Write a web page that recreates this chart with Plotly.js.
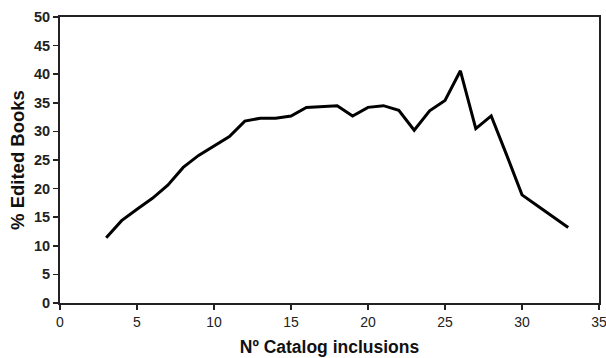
<!DOCTYPE html>
<html>
<head>
<meta charset="utf-8">
<script src="https://cdn.plot.ly/plotly-3.0.1.min.js"></script>
<style>html,body{margin:0;padding:0;background:#fff;}#chart{width:606px;height:358px;}</style>
</head>
<body>
<div id="chart"></div>
<script>
const catalogInclusions = [3,4,5,6,7,8,9,10,11,12,13,14,15,16,17,18,19,20,21,22,23,24,25,26,27,28,29,30,31,32,33];
const editedBooksPct = [11.4,14.4,16.4,18.3,20.6,23.7,25.8,27.5,29.1,31.8,32.3,32.3,32.7,34.2,34.3,34.5,32.7,34.2,34.5,33.7,30.2,33.6,35.4,40.6,30.5,32.7,25.9,18.9,17.0,15.1,13.2];
const xTicks = [0,5,10,15,20,25,30,35];
const yTicks = [0,5,10,15,20,25,30,35,40,45,50];

const trace = {
  x: catalogInclusions,
  y: editedBooksPct,
  type: 'scatter',
  mode: 'lines',
  line: {color: '#000', width: 3},
  hoverinfo: 'skip'
};

const layout = {
  width: 606, height: 358,
  margin: {l: 60, r: 7, t: 17, b: 55},
  paper_bgcolor: '#fff', plot_bgcolor: '#fff',
  showlegend: false,
  font: {family: 'Liberation Sans, Arial, sans-serif', color: '#222'},
  xaxis: {
    range: [0, 35], tickvals: xTicks, ticktext: xTicks.map(String),
    showgrid: false, zeroline: false,
    showline: true, linecolor: '#222', linewidth: 2, mirror: true,
    ticks: 'outside', ticklen: 5, tickwidth: 1.5, tickcolor: '#222',
    ticklabeloverflow: 'allow',
    tickfont: {size: 14, color: '#222'},
    title: {text: 'Nº Catalog inclusions', font: {size: 17.5, weight: 'bold', color: '#111'}, standoff: 12}
  },
  yaxis: {
    range: [0, 50], tickvals: yTicks, ticktext: yTicks.map(String),
    showgrid: false, zeroline: false,
    showline: true, linecolor: '#222', linewidth: 2, mirror: true,
    ticks: 'outside', ticklen: 5, tickwidth: 1.5, tickcolor: '#222',
    tickfont: {size: 14.5, weight: 'bold', color: '#222'},
    title: {text: '% Edited Books', font: {size: 18.5, weight: 'bold', color: '#111'}, standoff: 4}
  }
};

Plotly.newPlot('chart', [trace], layout, {displayModeBar: false, staticPlot: true});
</script>
</body>
</html>
